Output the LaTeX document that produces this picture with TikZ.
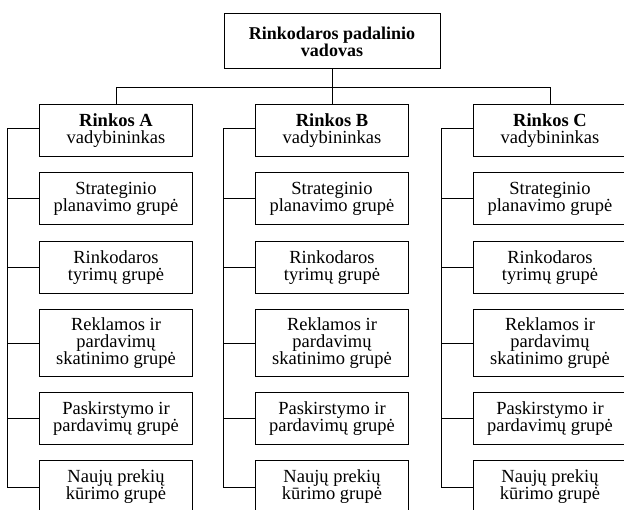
\documentclass[tikz,border=0pt]{standalone}
\usepackage{fontspec}
\setmainfont{Liberation Serif}
\usepackage{tikz}
\usetikzlibrary{calc}

\begin{document}
\begin{tikzpicture}[x=1pt, y=-1pt, line width=1pt,
    box/.style={draw, align=center, inner sep=0pt, minimum width=153pt, minimum height=52pt,
        font=\fontsize{18.5}{17}\selectfont},
    tallbox/.style={box, minimum height=67pt},
    topbox/.style={box, minimum width=216pt, minimum height=55pt,
        font=\fontsize{18}{17}\selectfont\bfseries}]
    \useasboundingbox (0,0) rectangle (624,510);
    \clip (0,0) rectangle (624,510);

    % vadovas
    \node[topbox] (top) at (332,41.5) {Rinkodaros padalinio\\vadovas};
    \coordinate (bus) at ($(top.south)+(0,18)$);

    % rinkų stulpeliai
    \foreach \c/\x in {A/116, B/332, C/550} {
        \node[box] (m\c) at (\x,131) {\textbf{Rinkos \c}\\vadybininkas};
        \node[box] (s\c) at (\x,199) {Strateginio\\planavimo grupė};
        \node[box] (r\c) at (\x,267.5) {Rinkodaros\\tyrimų grupė};
        \node[tallbox] (k\c) at (\x,343.5) {Reklamos ir\\pardavimų\\skatinimo grupė};
        \node[box] (p\c) at (\x,418.5) {Paskirstymo ir\\pardavimų grupė};
        \node[box] (n\c) at (\x,487) {Naujų prekių\\kūrimo grupė};

        % jungtys
        \draw (m\c.north) -- (m\c.north |- bus);
        \draw ([yshift=2pt]m\c.west) -- ++(-32,0) coordinate (sp\c) |- (n\c.west);
        \foreach \g in {s,r,k,p}
            \draw (\g\c.west) -- (\g\c.west -| sp\c);
    }

    % magistralė
    \draw (top.south) -- (bus);
    \draw (mA.north |- bus) -- (mC.north |- bus);
\end{tikzpicture}
\end{document}
